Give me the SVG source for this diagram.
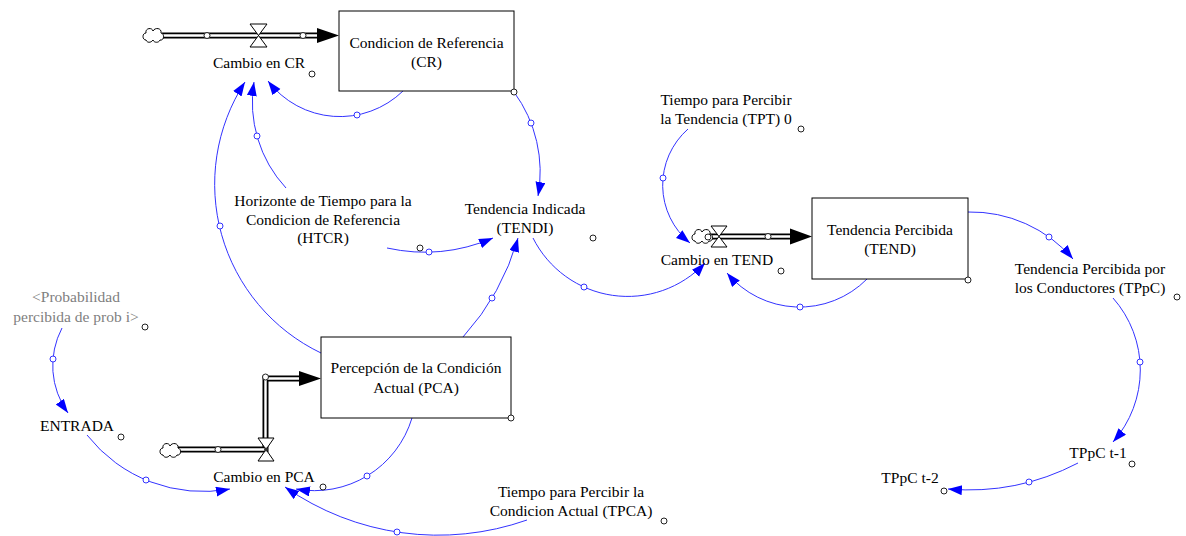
<svg xmlns="http://www.w3.org/2000/svg" width="1186" height="536" viewBox="0 0 1186 536">
<style>
text{font-family:"Liberation Serif","Times New Roman",serif;font-size:15.5px;fill:#000;text-anchor:middle}
.gray{fill:#808080}
.box{fill:#fff;stroke:#000;stroke-width:1}
.lnk{fill:none;stroke:#3333ff;stroke-width:1;marker-end:url(#ah)}
.bc{fill:#fff;stroke:#3333ff;stroke-width:1}
.hc{fill:#fff;stroke:#222;stroke-width:1}
.pipeo{fill:none;stroke:#000;stroke-width:6;stroke-linejoin:miter}
.pipei{fill:none;stroke:#fff;stroke-width:2.4;stroke-linejoin:miter}
.valve{fill:#fff;stroke:#000;stroke-width:1}
.cloud{fill:#fff;stroke:#000;stroke-width:1}
</style>
<defs>
<marker id="ah" markerUnits="userSpaceOnUse" markerWidth="16" markerHeight="12" refX="14" refY="5" orient="auto"><path d="M0,0 L14,5 L0,10 z" fill="#0000ff"/></marker>
<marker id="fh" markerUnits="userSpaceOnUse" markerWidth="24" markerHeight="16" refX="22" refY="7.5" orient="auto"><path d="M0,0 L22,7.5 L0,15 z" fill="#000"/></marker>
<path id="cloud" d="M-7,5 C-11,5 -11,-2 -7,-2 C-8,-7 -1,-8 0,-4 C2,-8 9,-7 8,-2 C12,-1 11,6 7,5 C6,8 1,8 0,5 C-2,8 -6,8 -7,5 Z"/>
</defs>

<g id="connectors">
<path class="lnk" d="M403,91 A90.5,90.5 0 0 1 268,81"/>
<path class="lnk" d="M286,188 A126.4,126.4 0 0 1 254,82"/>
<path class="lnk" d="M321,353 A187.2,187.2 0 0 1 245,82"/>
<path class="lnk" d="M514,92 A135.2,135.2 0 0 1 538,196"/>
<path class="lnk" d="M387,248 A174.4,174.4 0 0 0 493,238"/>
<path class="lnk" d="M463,337 A248,248 0 0 0 518,238"/>
<path class="lnk" d="M533,238 A106,106 0 0 0 705,263"/>
<path class="lnk" d="M688,129 A74.9,74.9 0 0 0 690,243"/>
<path class="lnk" d="M867,279 A94.7,94.7 0 0 1 727,273"/>
<path class="lnk" d="M968,212 A134.5,134.5 0 0 1 1073,259"/>
<path class="lnk" d="M1113,298 A108.6,108.6 0 0 1 1113,442"/>
<path class="lnk" d="M1078,463 A237,237 0 0 1 948,489"/>
<path class="lnk" d="M62,328 A81,81 0 0 0 68,413"/>
<path class="lnk" d="M87,435 A147.5,147.5 0 0 0 230,489"/>
<path class="lnk" d="M412,418 A102,102 0 0 1 296,489"/>
<path class="lnk" d="M527,520 A267.5,267.5 0 0 1 285,487"/>
<circle class="bc" cx="357" cy="115" r="3"/>
<circle class="bc" cx="257" cy="136" r="3"/>
<circle class="bc" cx="220" cy="226" r="3"/>
<circle class="bc" cx="531" cy="123" r="3"/>
<circle class="bc" cx="429" cy="252" r="3"/>
<circle class="bc" cx="492" cy="298" r="3"/>
<circle class="bc" cx="584" cy="287" r="3"/>
<circle class="bc" cx="663" cy="178" r="3"/>
<circle class="bc" cx="800" cy="307" r="3"/>
<circle class="bc" cx="1049" cy="237" r="3"/>
<circle class="bc" cx="1140" cy="362" r="3"/>
<circle class="bc" cx="1029" cy="482" r="3"/>
<circle class="bc" cx="53" cy="359" r="3"/>
<circle class="bc" cx="146" cy="480" r="3"/>
<circle class="bc" cx="367" cy="476" r="3"/>
<circle class="bc" cx="397" cy="532" r="3"/>
</g>

<g id="flow-cr">
<path class="pipeo" d="M162,35.5 H318"/>
<path class="pipei" d="M162,35.5 H318"/>
<path d="M317,28 L339,35.5 L317,43 z" fill="#000"/>
<use href="#cloud" class="cloud" transform="translate(153,35)"/>
<circle class="hc" cx="207" cy="35.5" r="3"/>
<circle class="hc" cx="303" cy="35.5" r="3"/>
</g>
<g id="cambio-cr">
<path class="valve" d="M250,24 L267,24 L250,47 L267,47 Z"/>
<text x="259" y="67.5">Cambio en CR</text>
<circle class="hc" cx="312" cy="74" r="3"/>
</g>

<g id="cr">
<rect class="box" x="339" y="11" width="175" height="80"/>
<text x="426.5" y="48">Condicion de Referencia</text>
<text x="426.5" y="67">(CR)</text>
<circle class="hc" cx="514" cy="92" r="3"/>
</g>

<g id="htcr">
<text x="323" y="206">Horizonte de Tiempo para la</text>
<text x="323" y="224.5">Condicion de Referencia</text>
<text x="323" y="243">(HTCR)</text>
<circle class="hc" cx="420" cy="248" r="3"/>
</g>

<g id="tendi">
<text x="525" y="214">Tendencia Indicada</text>
<text x="525" y="233">(TENDI)</text>
<circle class="hc" cx="593" cy="238" r="3"/>
</g>

<g id="tpt">
<text x="726" y="105">Tiempo para Percibir</text>
<text x="726" y="124">la Tendencia (TPT) 0</text>
<circle class="hc" cx="801" cy="129" r="3"/>
</g>

<g id="flow-tend">
<path class="pipeo" d="M710,236.5 H792"/>
<path class="pipei" d="M710,236.5 H792"/>
<path d="M790,228.5 L812,236.5 L790,244.5 z" fill="#000"/>
<use href="#cloud" class="cloud" transform="translate(702,236)"/>
<circle class="hc" cx="768" cy="236.5" r="3"/>
</g>
<g id="cambio-tend">
<path class="valve" d="M711,226 L727,226 L711,247 L727,247 Z"/>
<circle class="hc" cx="708" cy="237" r="3"/>
<text x="717" y="265">Cambio en TEND</text>
<circle class="hc" cx="781" cy="271" r="3"/>
</g>

<g id="tend">
<rect class="box" x="812" y="198" width="156" height="81"/>
<text x="890" y="235">Tendencia Percibida</text>
<text x="890" y="254">(TEND)</text>
<circle class="hc" cx="968" cy="280" r="3"/>
</g>

<g id="tppc">
<text x="1090" y="274">Tendencia Percibida por</text>
<text x="1090" y="293">los Conductores (TPpC)</text>
<circle class="hc" cx="1177" cy="297" r="3"/>
</g>

<g id="tppc1">
<text x="1098" y="458">TPpC t-1</text>
<circle class="hc" cx="1132" cy="464" r="3"/>
</g>

<g id="tppc2">
<text x="910" y="483">TPpC t-2</text>
<circle class="hc" cx="944" cy="491" r="3"/>
</g>

<g id="prob">
<text class="gray" x="76" y="302">&lt;Probabilidad</text>
<text class="gray" x="76" y="322">percibida de prob i&gt;</text>
<circle class="hc" cx="145" cy="327" r="3"/>
</g>

<g id="entrada">
<text x="77" y="431">ENTRADA</text>
<circle class="hc" cx="121" cy="437" r="3"/>
</g>

<g id="flow-pca">
<path class="pipeo" d="M178,449.5 H265.5 V378.5 H301"/>
<path class="pipei" d="M178,449.5 H265.5 V378.5 H301"/>
<path d="M299,371 L321,378.5 L299,386 z" fill="#000"/>
<use href="#cloud" class="cloud" transform="translate(170,450)"/>
<circle class="hc" cx="218" cy="449.5" r="3"/>
<circle class="hc" cx="265.5" cy="377" r="3"/>
</g>
<g id="cambio-pca">
<path class="valve" d="M258,438 L274,438 L258,461 L274,461 Z"/>
<circle cx="266" cy="449.5" r="2" fill="#333"/>
<text x="264" y="482">Cambio en PCA</text>
<circle class="hc" cx="323" cy="487" r="3"/>
</g>

<g id="pca">
<rect class="box" x="321" y="337" width="190" height="81"/>
<text x="416" y="373">Percepción de la Condición</text>
<text x="416" y="393">Actual (PCA)</text>
<circle class="hc" cx="511" cy="418" r="3"/>
</g>

<g id="tpca">
<text x="571" y="497">Tiempo para Percibir la</text>
<text x="571" y="516">Condicion Actual (TPCA)</text>
<circle class="hc" cx="664" cy="521" r="3"/>
</g>
</svg>
